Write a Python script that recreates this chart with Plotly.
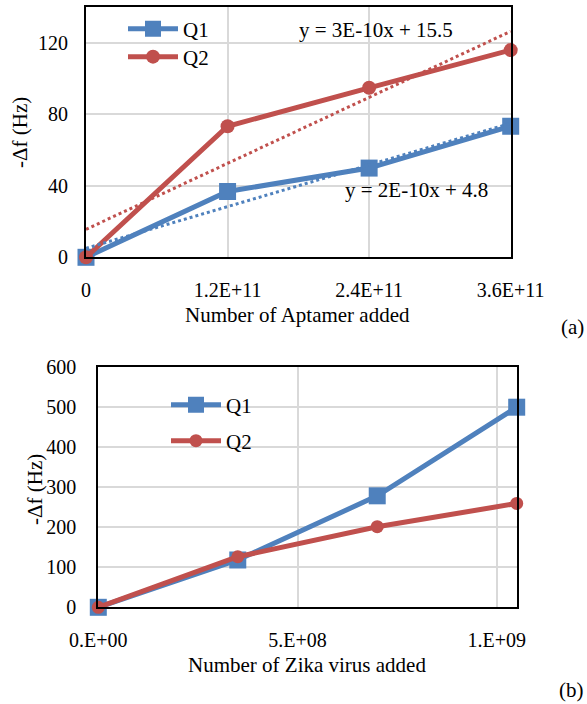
import numpy as np
import plotly.graph_objects as go

# ---------------- data ----------------
apt_x = [0, 1.2e11, 2.4e11, 3.6e11]
apt_q1 = [0, 36.8, 49.9, 73.3]
apt_q2 = [0, 73.3, 94.8, 115.9]
apt_xticks = [0, 1.2e11, 2.4e11, 3.6e11]
apt_xticktext = ["0", "1.2E+11", "2.4E+11", "3.6E+11"]
apt_yticks = [0, 40, 80, 120]
apt_eq_q1 = "y = 2E-10x + 4.8"
apt_eq_q2 = "y = 3E-10x + 15.5"

zika_x = [0, 3.5e8, 7.0e8, 1.05e9]
zika_q1 = [0, 118, 278, 499]
zika_q2 = [0, 126, 201, 259]
zika_xticks = [0, 5e8, 1e9]
zika_xticktext = ["0.E+00", "5.E+08", "1.E+09"]
zika_yticks = [0, 100, 200, 300, 400, 500, 600]

series_names = ["Q1", "Q2"]

# ---------------- style ----------------
W, H = 587, 704
FONT = "Liberation Serif"
BLUE = "#4F81BD"
RED = "#C0504D"
GRID = "#D9D9D9"
TXT = 21


def fx(p):
    return min(1.0, max(0.0, p / W))


def fy(p):
    return min(1.0, max(0.0, 1 - p / H))


fig = go.Figure()

# top chart series
fig.add_trace(go.Scatter(x=apt_x, y=apt_q1, name=series_names[0], mode="lines+markers",
                         line=dict(color=BLUE, width=5),
                         marker=dict(symbol="square", size=17, color=BLUE),
                         xaxis="x", yaxis="y", legend="legend", cliponaxis=False))
fig.add_trace(go.Scatter(x=apt_x, y=apt_q2, name=series_names[1], mode="lines+markers",
                         line=dict(color=RED, width=5),
                         marker=dict(symbol="circle", size=14, color=RED),
                         xaxis="x", yaxis="y", legend="legend2", cliponaxis=False))

# linear trendlines
for ys, col in [(apt_q1, BLUE), (apt_q2, RED)]:
    m, b = np.polyfit(apt_x, ys, 1)
    tx = [apt_x[0], apt_x[-1]]
    fig.add_trace(go.Scatter(x=tx, y=[m * t + b for t in tx], mode="lines",
                             line=dict(color=col, width=3, dash="dot"),
                             showlegend=False, hoverinfo="skip",
                             xaxis="x", yaxis="y", cliponaxis=False))

# bottom chart series
fig.add_trace(go.Scatter(x=zika_x, y=zika_q1, name=series_names[0], mode="lines+markers",
                         line=dict(color=BLUE, width=5),
                         marker=dict(symbol="square", size=17, color=BLUE),
                         xaxis="x2", yaxis="y2", legend="legend3", cliponaxis=False))
fig.add_trace(go.Scatter(x=zika_x, y=zika_q2, name=series_names[1], mode="lines+markers",
                         line=dict(color=RED, width=5),
                         marker=dict(symbol="circle", size=13, color=RED),
                         xaxis="x2", yaxis="y2", legend="legend4", cliponaxis=False))

axis_common = dict(showline=True, mirror=True, linecolor="black", linewidth=2,
                   showgrid=True, gridcolor=GRID, gridwidth=1.5, zeroline=False,
                   automargin=False,
                   ticks="", tickfont=dict(family=FONT, size=20, color="black"))

fig.update_layout(
    width=W, height=H,
    margin=dict(l=0, r=0, t=0, b=0),
    paper_bgcolor="white", plot_bgcolor="white",
    font=dict(family=FONT, size=20, color="black"),
    xaxis=dict(domain=[fx(86), fx(510.7)], anchor="y", range=[0, 3.6e11],
               tickmode="array", tickvals=apt_xticks, ticktext=apt_xticktext,
               ticklabelstandoff=14, **axis_common),
    yaxis=dict(domain=[fy(257.3), fy(7)], anchor="x", range=[0, 140],
               tickmode="array", tickvals=apt_yticks,
               ticklabelstandoff=12, **axis_common),
    xaxis2=dict(domain=[fx(98.3), fx(516.7)], anchor="y2", range=[0, 1.05e9],
                tickmode="array", tickvals=zika_xticks, ticktext=zika_xticktext,
                ticklabelstandoff=14, **axis_common),
    yaxis2=dict(domain=[fy(607.3), fy(366.7)], anchor="x2", range=[0, 600],
                tickmode="array", tickvals=zika_yticks,
                ticklabelstandoff=16, **axis_common),
)

leg_common = dict(bgcolor="rgba(0,0,0,0)", font=dict(family=FONT, size=TXT),
                  xanchor="left", yanchor="middle", itemwidth=50)
fig.update_layout(
    legend=dict(x=fx(123), y=fy(29), **leg_common),
    legend2=dict(x=fx(123), y=fy(57), **leg_common),
    legend3=dict(x=fx(166), y=fy(405), **leg_common),
    legend4=dict(x=fx(166), y=fy(441), **leg_common),
)

ann = []
ann.append(dict(text=apt_eq_q2, x=fx(376), y=fy(30), xref="paper", yref="paper",
                showarrow=False, xanchor="center", yanchor="middle",
                font=dict(family=FONT, size=TXT)))
ann.append(dict(text=apt_eq_q1, x=fx(416), y=fy(190), xref="paper", yref="paper",
                showarrow=False, xanchor="center", yanchor="middle",
                font=dict(family=FONT, size=TXT)))
ann.append(dict(text="Number of Aptamer added", x=fx(298), y=fy(315), xref="paper", yref="paper",
                showarrow=False, xanchor="center", yanchor="middle",
                font=dict(family=FONT, size=TXT)))
ann.append(dict(text="-Δf (Hz)", x=fx(20), y=fy(133), xref="paper", yref="paper",
                showarrow=False, xanchor="center", yanchor="middle", textangle=-90,
                font=dict(family=FONT, size=TXT)))
ann.append(dict(text="(a)", x=fx(586), y=fy(327), xref="paper", yref="paper",
                showarrow=False, xanchor="right", yanchor="middle",
                font=dict(family=FONT, size=TXT)))
ann.append(dict(text="Number of Zika virus added", x=fx(307), y=fy(665), xref="paper", yref="paper",
                showarrow=False, xanchor="center", yanchor="middle",
                font=dict(family=FONT, size=TXT)))
ann.append(dict(text="-Δf (Hz)", x=fx(35), y=fy(490), xref="paper", yref="paper",
                showarrow=False, xanchor="center", yanchor="middle", textangle=-90,
                font=dict(family=FONT, size=TXT)))
ann.append(dict(text="(b)", x=fx(586), y=fy(690), xref="paper", yref="paper",
                showarrow=False, xanchor="right", yanchor="middle",
                font=dict(family=FONT, size=TXT)))
fig.update_layout(annotations=ann)

fig.write_html("out.html", config={"displayModeBar": False},
               post_script="document.body.style.margin='0';document.body.style.overflow='hidden';")
